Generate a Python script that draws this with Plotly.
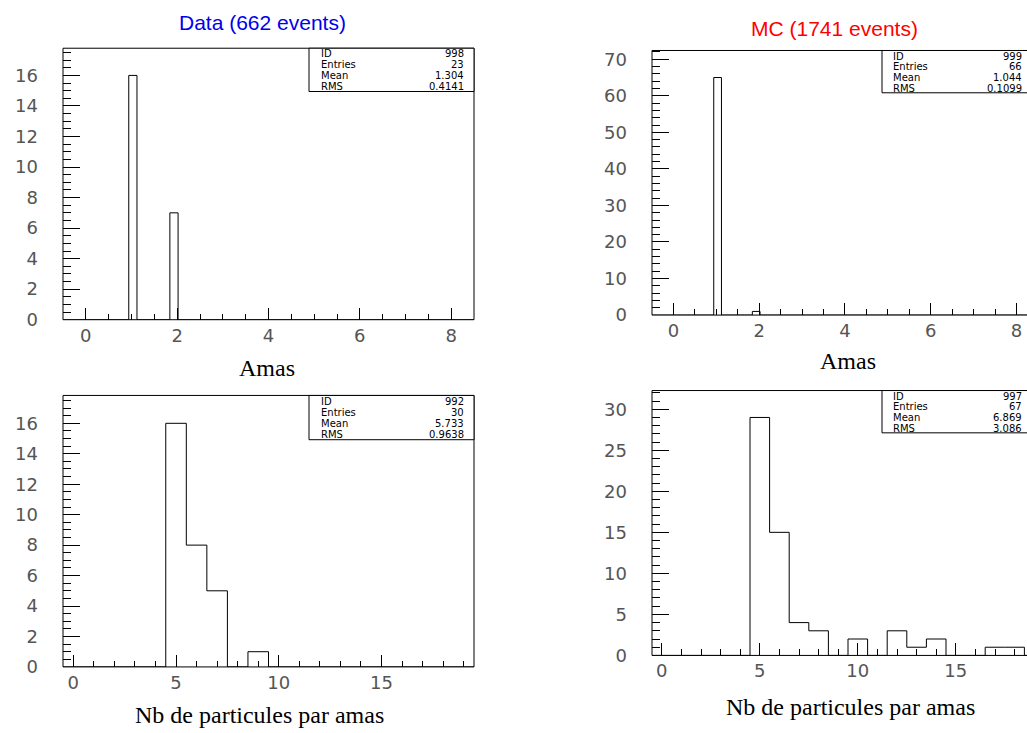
import plotly.graph_objects as go

W, H = 1027, 733
OFF = 0

# ---------------- data ----------------
amas_lo, amas_hi, amas_nbins = -0.5, 8.5, 50
amas_bin_index = [8, 13]
data_amas_counts = [16, 7]
mc_amas_counts = [65, 1]

nb_lo, nb_hi, nb_nbins = -0.5, 19.5, 20
data_nb_counts = [0, 0, 0, 0, 0, 16, 8, 5, 0, 1, 0, 0, 0, 0, 0, 0, 0, 0, 0, 0]
mc_nb_counts = [0, 0, 0, 0, 0, 29, 15, 4, 3, 0, 2, 0, 3, 1, 2, 0, 0, 1, 1, 0]

stat_labels = ["ID", "Entries", "Mean", "RMS"]
stats_data_amas = ["998", "23", "1.304", "0.4141"]
stats_mc_amas = ["999", "66", "1.044", "0.1099"]
stats_data_nb = ["992", "30", "5.733", "0.9638"]
stats_mc_nb = ["997", "67", "6.869", "3.086"]

titles = ["Data (662 events)", "MC (1741 events)"]
xtitles = ["Amas", "Nb de particules par amas"]


def sparse_to_full(n, idx, counts):
    full = [0] * n
    for i, c in zip(idx, counts):
        full[i] = c
    return full


def step_xy(lo, hi, n, counts):
    w = (hi - lo) / n
    edges = [lo + i * w for i in range(n + 1)]
    return [edges[0]] + edges, [0] + list(counts) + [0]


def px(x):  # window pixel -> paper
    return (x - OFF) / W


def py(y):
    return 1 - (y - OFF) / H


panels = [
    dict(x0=63, x1=474, y0=47, y1=323,
         xr=(-0.5, 8.5), yr=(0, 17.78), xd=2, xm=0.5, yd=2, ym=0.5,
         hist=step_xy(amas_lo, amas_hi, amas_nbins,
                      sparse_to_full(amas_nbins, amas_bin_index, data_amas_counts)),
         stats=stats_data_amas, box=(309, 474, 47, 91), rows=(52.7, 11.1), lx=319, vx=466),
    dict(x0=652, x1=W, y0=49.3, y1=318.3,
         xr=(-0.5, -0.5 + (W - 652) / 42.875), yr=(0, 72.4), xd=2, xm=0.5, yd=10, ym=2,
         hist=step_xy(amas_lo, amas_hi, amas_nbins,
                      sparse_to_full(amas_nbins, amas_bin_index, mc_amas_counts)),
         stats=stats_mc_amas, box=(882, 1045, 49.3, 92.3), rows=(55, 11.0), lx=891, vx=1024),
    dict(x0=63, x1=474, y0=400, y1=676,
         xr=(-0.5, 19.5), yr=(0, 17.83), xd=5, xm=1, yd=2, ym=0.5,
         hist=step_xy(nb_lo, nb_hi, nb_nbins, data_nb_counts),
         stats=stats_data_nb, box=(309, 474, 400, 445), rows=(406, 11.2), lx=319, vx=466),
    dict(x0=652, x1=W, y0=395, y1=664.3,
         xr=(-0.5, -0.5 + (W - 652) / 19.6), yr=(0, 32.28), xd=5, xm=1, yd=5, ym=1,
         hist=step_xy(nb_lo, nb_hi, nb_nbins, mc_nb_counts),
         stats=stats_mc_nb, box=(882, 1050, 395, 438), rows=(400.8, 10.9), lx=891, vx=1024),
]

tick_font = dict(family="DejaVu Sans", size=18, color="#555555")

fig = go.Figure()
layout = dict(width=W, height=H, margin=dict(l=0, r=0, t=0, b=0),
              paper_bgcolor="white", plot_bgcolor="white", showlegend=False)
shapes = []
annotations = []

for k, p in enumerate(panels):
    sfx = "" if k == 0 else str(k + 1)
    xs, ys = p["hist"]
    fig.add_trace(go.Scatter(x=xs, y=ys, mode="lines", line_shape="hv",
                             line=dict(color="black", width=1),
                             xaxis="x" + sfx, yaxis="y" + sfx, hoverinfo="skip"))
    layout["xaxis" + sfx] = dict(
        domain=[px(p["x0"]), min(1.0, px(p["x1"]))], range=list(p["xr"]), anchor="y" + sfx,
        showgrid=False, zeroline=False, showline=False,
        ticks="inside", ticklen=12, tickwidth=1, tickcolor="black",
        dtick=p["xd"], tick0=0, tickfont=tick_font, ticklabelstandoff=3,
        minor=dict(ticks="inside", ticklen=6, dtick=p["xm"], tick0=0, tickcolor="black", showgrid=False),
    )
    layout["yaxis" + sfx] = dict(
        domain=[py(p["y1"]), py(p["y0"])], range=list(p["yr"]), anchor="x" + sfx,
        showgrid=False, zeroline=False, showline=False,
        ticks="inside", ticklen=17, tickwidth=1, tickcolor="black",
        dtick=p["yd"], tick0=0, tickfont=tick_font, ticklabelstandoff=24,
        minor=dict(ticks="inside", ticklen=8, dtick=p["ym"], tick0=0, tickcolor="black", showgrid=False),
    )
    right = p["x1"] if p["x1"] < W else W + 20
    shapes.append(dict(type="rect", xref="paper", yref="paper",
                       x0=px(p["x0"]), x1=px(right), y0=py(p["y1"]), y1=py(p["y0"]),
                       line=dict(color="black", width=1), fillcolor="rgba(0,0,0,0)"))
    bx0, bx1, by0, by1 = p["box"]
    shapes.append(dict(type="rect", xref="paper", yref="paper",
                       x0=px(bx0), x1=px(bx1), y0=py(by1), y1=py(by0),
                       line=dict(color="black", width=1), fillcolor="white"))
    r0, dr = p["rows"]
    for i, (lab, val) in enumerate(zip(stat_labels, p["stats"])):
        yy = py(r0 + i * dr)
        annotations.append(dict(x=px(p["lx"]), y=yy, xref="paper", yref="paper",
                                text=lab, showarrow=False, xanchor="left", yanchor="middle",
                                font=dict(family="DejaVu Sans", size=10, color="black")))
        annotations.append(dict(x=px(p["vx"]), y=yy, xref="paper", yref="paper",
                                text=val, showarrow=False, xanchor="right", yanchor="middle",
                                font=dict(family="DejaVu Sans", size=10, color="black")))

annotations.append(dict(x=px(262), y=py(21), xref="paper", yref="paper", text=titles[0],
                        showarrow=False, xanchor="center", yanchor="middle",
                        font=dict(family="Liberation Sans", size=21, color="#0000ee")))
annotations.append(dict(x=px(834), y=py(27), xref="paper", yref="paper", text=titles[1],
                        showarrow=False, xanchor="center", yanchor="middle",
                        font=dict(family="Liberation Sans", size=21, color="#ff0000")))
for (xc, yc, t) in [(266.5, 372, xtitles[0]), (848, 365, xtitles[0]),
                    (259, 725, xtitles[1]), (850, 717, xtitles[1])]:
    annotations.append(dict(x=px(xc), y=py(yc), xref="paper", yref="paper", text=t,
                            showarrow=False, xanchor="center", yanchor="middle",
                            font=dict(family="Liberation Serif", size=24, color="black")))

layout["shapes"] = shapes
layout["annotations"] = annotations
fig.update_layout(**layout)
fig.write_html("out.html", config={"displayModeBar": False},
               post_script="document.body.style.margin='0';document.body.style.overflow='hidden';")
